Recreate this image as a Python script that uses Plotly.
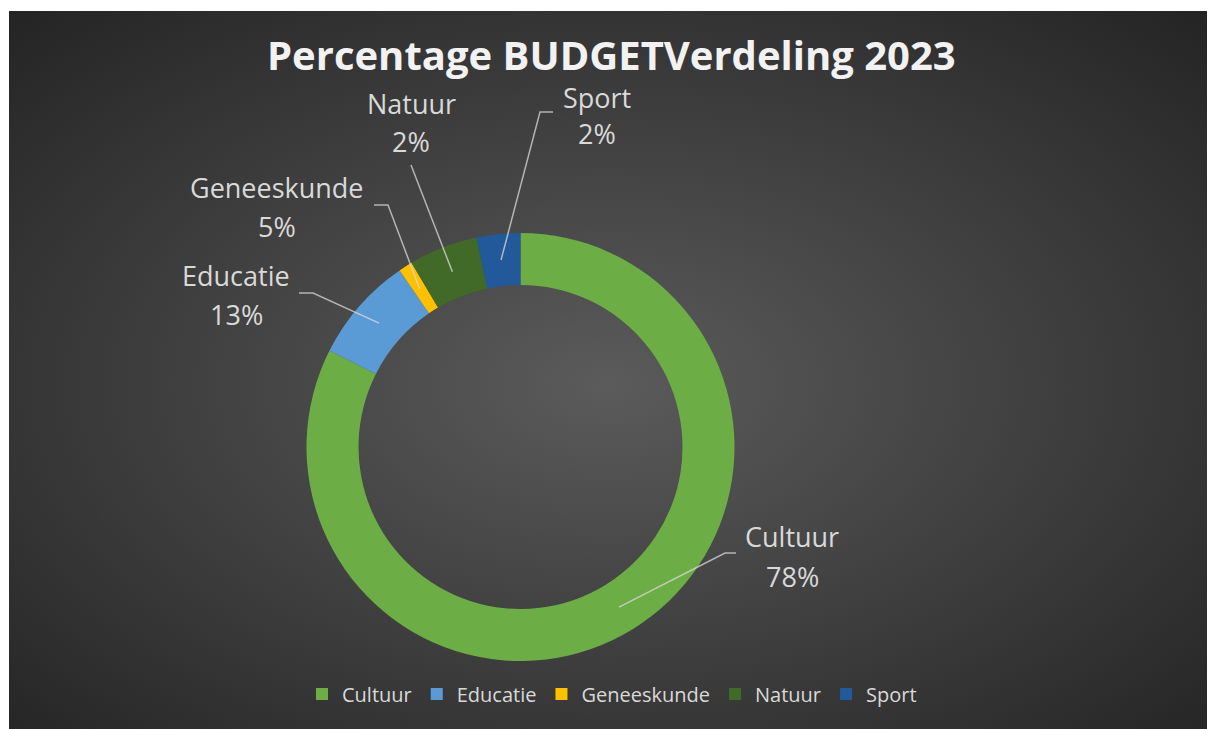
import base64
import math
import plotly.graph_objects as go

# ---------------- data ----------------
categories = ["Cultuur", "Educatie", "Geneeskunde", "Natuur", "Sport"]
slice_values = [82.4, 8.0, 1.05, 5.2, 3.3]          # slice sizes as drawn
label_pct = ["78%", "13%", "5%", "2%", "2%"]          # percentages as printed on the labels
slice_colors = ["#6cad45", "#5b9bd5", "#ffc000", "#416a29", "#22599a"]

# ---------------- layout constants ----------------
W, H = 1208, 729
CX, CY, R = 520.5, 447.0, 214.0
HOLE = 0.757

def px(x):
    return x / W

def py(y):
    return 1 - y / H

# label placement (pixels): elbow point, end point, name centre, pct centre
label_layout = {
    "Cultuur":     dict(elbow=(725, 553), end=(736, 553), name=(792, 536), pct=(792, 576)),
    "Educatie":    dict(elbow=(313, 293), end=(299, 293), name=(236, 275), pct=(236, 314)),
    "Geneeskunde": dict(elbow=(388, 205), end=(374, 205), name=(277, 188), pct=(277, 227)),
    "Natuur":      dict(elbow=(411, 165), end=(411, 165), name=(411, 104), pct=(411, 142)),
    "Sport":       dict(elbow=(540, 112), end=(553, 112), name=(597, 97), pct=(597, 134)),
}

# ---------------- background gradient ----------------
bx0, by0, bx1, by1 = 9, 11, 1207, 729
bw, bh = bx1 - bx0, by1 - by0
svg = (
    f'<svg xmlns="http://www.w3.org/2000/svg" width="{bw}" height="{bh}" preserveAspectRatio="none">'
    '<defs><radialGradient id="g" cx="50%" cy="52%" r="72%">'
    '<stop offset="0%" stop-color="#5b5b5b"/>'
    '<stop offset="100%" stop-color="#242424"/>'
    '</radialGradient></defs>'
    f'<rect x="0" y="0" width="{bw}" height="{bh}" fill="url(#g)"/></svg>'
)
bg_uri = "data:image/svg+xml;base64," + base64.b64encode(svg.encode()).decode()

fig = go.Figure()
fig.add_trace(go.Pie(
    labels=categories,
    values=slice_values,
    hole=HOLE,
    sort=False,
    direction="clockwise",
    rotation=0,
    textinfo="none",
    marker=dict(colors=slice_colors, line=dict(width=0)),
    domain=dict(x=[px(CX - R), px(CX + R)], y=[py(CY + R), py(CY - R)]),
    hoverinfo="label+percent",
))

# white frame strips (top, left, right) around the dark chart area
shapes = [
    dict(type="rect", xref="paper", yref="paper", x0=0, x1=1, y0=py(bx0 * 0 + by0), y1=1,
         fillcolor="white", line=dict(width=0), layer="below"),
    dict(type="rect", xref="paper", yref="paper", x0=0, x1=px(bx0), y0=0, y1=1,
         fillcolor="white", line=dict(width=0), layer="below"),
    dict(type="rect", xref="paper", yref="paper", x0=px(bx1), x1=1, y0=0, y1=1,
         fillcolor="white", line=dict(width=0), layer="below"),
]

# leader lines, starting at each slice's mid-angle in the middle of the ring
total = sum(slice_values)
cum = 0.0
annotations = []
d = R * (1 + HOLE) / 2
for cat, v, pct in zip(categories, slice_values, label_pct):
    mid = (cum + v / 2) / total
    cum += v
    th = 2 * math.pi * mid
    sx = CX + d * math.sin(th)
    sy = CY - d * math.cos(th)
    L = label_layout[cat]
    ex, ey = L["elbow"]
    fx, fy = L["end"]
    path = f"M {px(sx)},{py(sy)} L {px(ex)},{py(ey)} L {px(fx)},{py(fy)}"
    shapes.append(dict(type="path", xref="paper", yref="paper", path=path,
                       line=dict(color="rgba(217,217,217,0.75)", width=1.5)))
    nx, ny = L["name"]
    qx, qy = L["pct"]
    annotations.append(dict(x=px(nx), y=py(ny), xref="paper", yref="paper", text=cat,
                            showarrow=False, xanchor="center", yanchor="middle",
                            font=dict(family="Open Sans", size=27, color="#d9d9d9")))
    annotations.append(dict(x=px(qx), y=py(qy), xref="paper", yref="paper", text=pct,
                            showarrow=False, xanchor="center", yanchor="middle",
                            font=dict(family="Open Sans", size=27, color="#d9d9d9")))

annotations.append(dict(x=px(611.5), y=py(54), xref="paper", yref="paper",
                        text="<b>Percentage BUDGETVerdeling 2023</b>",
                        showarrow=False, xanchor="center", yanchor="middle",
                        font=dict(family="Open Sans", size=40, color="#f2f2f2")))

fig.update_layout(
    width=W, height=H,
    margin=dict(l=0, r=0, t=0, b=0),
    paper_bgcolor="#252525",
    plot_bgcolor="#252525",
    images=[dict(source=bg_uri, xref="paper", yref="paper",
                 x=px(bx0), y=py(by0), sizex=bw / W, sizey=bh / H,
                 xanchor="left", yanchor="top", sizing="stretch", layer="below")],
    shapes=shapes,
    annotations=annotations,
    showlegend=True,
    legend=dict(orientation="h", x=px(612), y=py(694), xanchor="center", yanchor="middle",
                font=dict(family="Open Sans", size=20, color="#d9d9d9"),
                bgcolor="rgba(0,0,0,0)", itemclick=False),
)

fig.write_html("out.html", config={"displayModeBar": False},
               post_script="document.body.style.margin='0';document.body.style.overflow='hidden';")
